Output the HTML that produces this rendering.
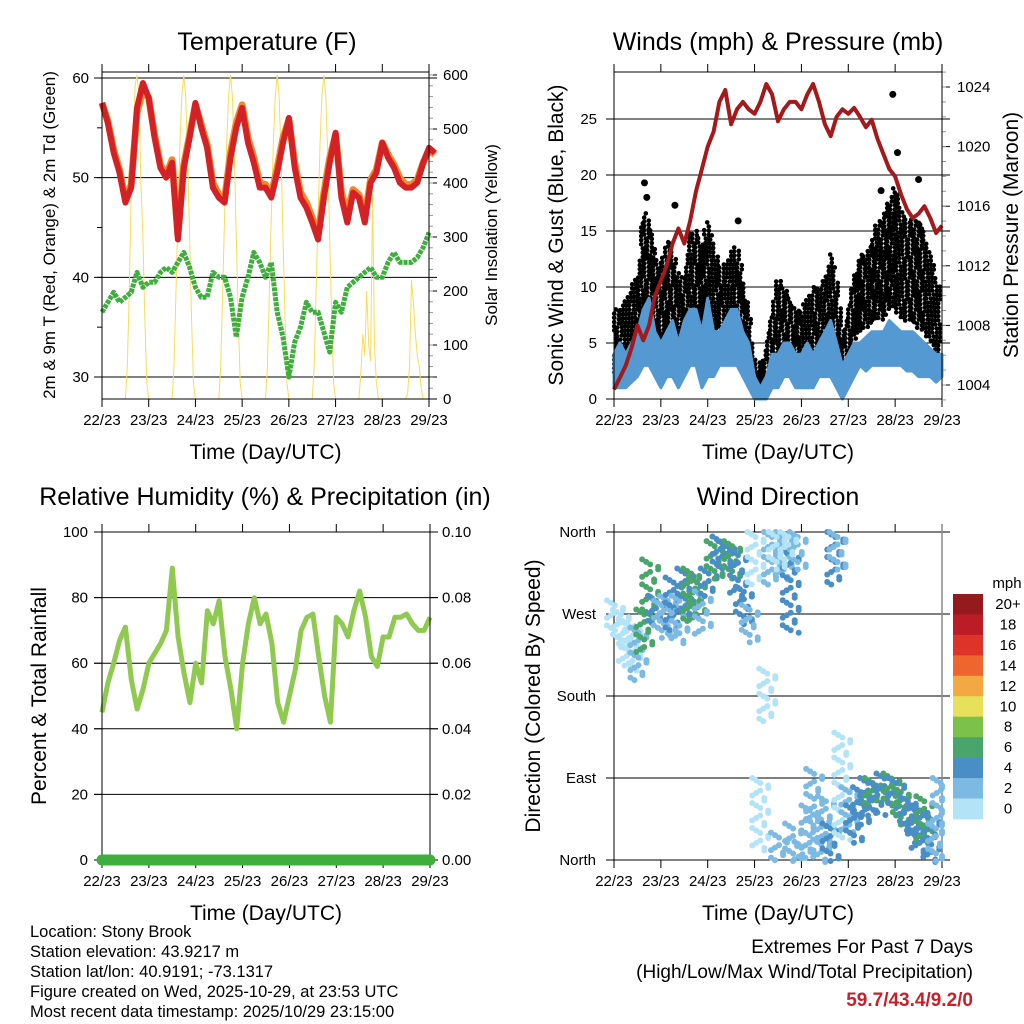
<!DOCTYPE html>
<html><head><meta charset="utf-8"><style>
body{margin:0;background:#fff;}
svg{display:block;font-family:"Liberation Sans",sans-serif;}
</style></head><body>
<svg id="chart" width="1024" height="1024" viewBox="0 0 1024 1024" xmlns="http://www.w3.org/2000/svg">
<rect width="1024" height="1024" fill="#fff"/>
</svg>
<script>
// ---------- DATA (3-hour steps, index/8 = days since 22/23) ----------
const dayLabels = ["22/23","23/23","24/23","25/23","26/23","27/23","28/23","29/23"];
const temp2m = [57.5,55.5,52.5,50.5,47.5,49,57,59.5,58,54,51,50,51.5,43.8,51,54,57.5,55,53,49,48,47.5,52,55,57,53.5,51.5,49,49,48,50.5,53.5,56,51,48,47,45.5,43.8,48,51.5,54.5,48,45.5,48.5,48,45.5,49.5,50.5,53.5,52,51,49.5,49,49,49.5,51.5,53,52.5];
const temp9m = [57.5,55.7,52.8,50.8,47.8,49.3,56.5,58.8,58,54.3,51.3,50.3,51.8,44.2,51.3,54.3,57.3,55.3,53.3,49.5,48.3,47.8,52.5,55.5,57.3,54,52,49.5,49.3,48.3,51,54,55.8,51.5,48.5,47.5,46,44.2,48.5,52,54.3,48.5,46.5,48.8,48.3,46,49.8,50.8,53.5,52.3,51.3,50,49.3,49.3,49.8,51.5,52.8,52.3];
const dewpoint = [36.5,37.5,38.5,37.5,38,38.5,40.5,39,39.5,39.5,40.5,41,40.5,41.5,42.5,41,39,38,38,40.5,40,40,38,34,38,40,42.5,41.5,40,41.5,36.5,34,30,33.5,35,37.5,36.5,36.5,34.5,32.5,37.5,36.5,39,39.5,40,40.5,41,40,40,41.5,42.5,41.5,41.5,41.5,42,43,44.5];
// hourly solar insolation, 7 days x 24 h
const solar = [
 0,0,0,0,0,0,0,0,0,0,0,0, 0,60,200,380,470,580,600,560,400,300,150,30,
 0,0,0,0,0,0,0,0,0,0,0,0, 0,60,200,340,470,560,600,560,450,300,150,30,
 0,0,0,0,0,0,0,0,0,0,0,0, 0,60,200,340,470,560,600,560,450,300,150,30,
 0,0,0,0,0,0,0,0,0,0,0,0, 0,60,200,340,470,560,600,560,450,300,150,30,
 0,0,0,0,0,0,0,0,0,0,0,0, 0,60,200,340,470,560,600,560,450,300,150,30,
 0,0,0,0,0,0,0,0,0,0,0,0, 0,50,120,80,200,100,70,380,100,30,0,0,
 0,0,0,0,0,0,0,0,0,0,0,0, 0,10,60,220,180,120,80,60,20,0,0,0];
const pressure = [1003.7,1004.5,1005.3,1006.5,1008,1007,1008,1010,1011,1012,1013.5,1014.5,1013.5,1015,1017,1018.5,1020,1021,1023,1023.8,1021.5,1022.5,1023,1022.5,1022.2,1023,1024.2,1023.5,1021.7,1022.5,1023,1023,1022.5,1023.5,1024.2,1023,1021.5,1020.7,1022,1022.5,1022.2,1022.6,1022,1021.3,1021.8,1020.5,1019.5,1018.5,1018,1016.8,1015.8,1015.2,1015.5,1016,1015.2,1014.2,1014.7];
const windLo = [1,1,1,1.5,2,3,3,2,1,2,2,1,2,3,3,1,2,2,3,3,3,3,2,1,0,0,0,1,1,2,2,1,1,1,1,2,2,2,1,0,1,2,3,2.5,3,3,3,3,3,3,2.5,2.5,2,2,2,1.5,2];
const windHi = [4,5,4,5,6,8,9,6,5,6,7,5,7,8,8,6,9,6,6,7,8,8,6,5,2,1,2,4,4,5,5,4,4,5,4,5,6,7,5,3,4,5,5,5.5,6,6,6,7,6.5,6,6,6,5.5,5,4.5,4,4];
const gustLo = [2,2,3,3,4,6,7,5,5,5,4,3,5,7,8,6,7,6,6,6,7,7,5,3,1,0,1,3,4,4,4,3,3,3,4,4,5,6,4,2,3,5,6,6,7,7,7,8,8,7,7,7,6,6,5,4,4];
const gustHi = [8,8,9,10,11,17,16,13,12,14,14,11,11,15,15,14,16,14,12,12,13,14,11,8,4,3,5,8,11,10,9,8,8,9,10,10,11,13,11,6,8,11,13,13,14,16,16,18,19,17,16,16,16,15,13,11,9];
const gustOutDay = [0.65,0.7,1.3,2.65,5.95,6.05,6.5,5.7];
const gustOutVal = [19.3,18,17.3,15.9,27.2,22,19.6,18.6];
const rh = [45,54,60,67,71,55,46,52,60,63,66,70,89,68,57,48,60,54,76,72,79,62,52,40,60,72,80,72,75,66,48,42,50,58,70,74,75,62,50,42,74,72,68,76,82,74,62,59,68,68,74,74,75,72,70,70,74];
const precip = [0,0,0,0,0,0,0,0];
// wind direction clusters: day, direction low, direction high, speed (mph)
const wdDay = [0,0.125,0.25,0.375,0.5,0.625,0.75,0.875,1,1.125,1.25,1.375,1.5,1.625,1.75,1.875,2,2.125,2.25,2.375,2.5,2.625,2.75,2.875,3,3.1,3.25,3.35,3.5,3.6,3.75,3.8,3.9,4,4.15,4.25,4.4,4.5,4.6,4.7,4.75,4.85,5,5.1,5.25,5.4,5.5,5.6,5.75,5.9,6,6.1,6.25,6.4,6.5,6.6,6.75,6.85,6.95,3.45,3.7];
const wdLo  = [250,235,215,210,200,230,265,260,245,250,255,240,270,265,265,250,290,310,320,320,310,290,260,240,300,10,150,300,0,310,250,0,320,0,0,40,0,20,0,300,320,20,30,20,40,50,60,50,70,60,50,40,30,20,10,20,0,0,40,320,330];
const wdHi  = [285,275,265,260,255,275,330,290,285,290,310,290,320,320,310,295,320,350,355,350,350,340,300,280,360,90,210,360,30,360,340,40,360,20,60,100,50,70,40,360,360,140,80,60,80,90,90,85,95,95,90,80,70,60,60,70,50,40,90,360,360];
const wdSpd = [1.5,1.5,1.5,1.5,2,6,7,5,2,2,4,2,5,6,7,2,5,6,4,4,6,5,4,2,0,0,1,2,3,2,4,3,2,2,3,2,3,2,4,5,3,1,3,4,4,4,6,5,5,6,5,6,5,4,4,6,4,3,2,0,1];
const cbLabels = ["20+","18","16","14","12","10","8","6","4","2","0"];
const cbColors = ["#941a1d","#bb1c25","#dd3328","#ee6530","#f4a844","#e6e05a","#7bc14a","#4aa56d","#4a8ec6","#7cb9e3","#b3e3f7"];

const NS = "http://www.w3.org/2000/svg";
const svg = document.getElementById('chart');
function mk(tag, name, attrs, parent) {
  const e = document.createElementNS(NS, tag);
  
  
  for (const k in attrs) e.setAttribute(k, attrs[k]);
  (parent || svg).appendChild(e);
  return e;
}
function txt(name, x, y, s, size, anchor, extra) {
  const t = mk('text', name, Object.assign({x: x, y: y, 'font-size': size, 'text-anchor': anchor || 'middle', fill: '#000'}, extra || {}));
  t.textContent = s;
  return t;
}
function vtxt(name, x, y, s, size) {
  return txt(name, x, y, s, size, 'middle', {transform: 'rotate(-90 ' + x + ' ' + y + ')'});
}
function lin(d0, d1, r0, r1) { return v => r0 + (v - d0) / (d1 - d0) * (r1 - r0); }
function pathOf(xs, ys) { return xs.map((x, i) => (i ? 'L' : 'M') + x.toFixed(1) + ' ' + ys[i].toFixed(1)).join(''); }
function interp(arr, d) { const f = d * 8; const i = Math.min(arr.length - 2, Math.floor(f)); const t = f - i; return arr[i] * (1 - t) + arr[i + 1] * t; }

function xAxis(prefix, L, R, T, B) {
  const xs = lin(0, 7, L, R);
  dayLabels.forEach((lab, i) => {
    const x = xs(i);
    mk('line', prefix + '-xtick-bottom', {x1: x, x2: x, y1: B, y2: B + 8, stroke: '#000', 'stroke-width': 1});
    mk('line', prefix + '-xtick-top', {x1: x, x2: x, y1: T - 8, y2: T, stroke: '#000', 'stroke-width': 1});
    txt(prefix + '-xtick-label', x, B + 26, lab, 15);
  });
  txt(prefix + '-x-axis-title', (L + R) / 2, B + 60, 'Time (Day/UTC)', 21);
  return xs;
}
function grid(prefix, L, R, y) {
  mk('line', prefix + '-gridline', {x1: L - 8, x2: R + 8, y1: y, y2: y, stroke: '#000', 'stroke-width': 1});
}
function frame(prefix, L, R, T, B) {
  mk('rect', prefix + '-frame', {x: L, y: T, width: R - L, height: B - T, fill: 'none', stroke: '#000', 'stroke-width': 1});
}

// ================= TEMPERATURE =================
(function () {
  const L = 102, R = 429, T = 72, B = 399;
  const xs = xAxis('temp', L, R, T, B);
  const yL = lin(30, 60, 377, 78), yR = lin(0, 600, 399, 75);
  txt('temp-title', 267, 50, 'Temperature (F)', 25);
  [30, 40, 50, 60].forEach(v => { grid('temp', L, R, yL(v)); txt('temp-ytick-label', 89, yL(v) + 5, v, 15, 'end'); });
  for (let v = 30; v <= 60; v += 5) mk('line', 'temp-ytick', {x1: L - 5, x2: L, y1: yL(v), y2: yL(v), stroke: '#000'});
  for (let v = 0; v <= 600; v += 100) { mk('line', 'solar-ytick', {x1: R, x2: R + 8, y1: yR(v), y2: yR(v), stroke: '#000'}); txt('solar-ytick-label', 443, yR(v) + 5, v, 15, 'start'); }
  for (let v = 20; v <= 600; v += 20) mk('line', 'solar-minor-tick', {x1: R, x2: R + 4, y1: yR(v), y2: yR(v), stroke: '#999'});
  vtxt('temp-y-axis-title', 55, 235, '2m & 9m T (Red, Orange) & 2m Td (Green)', 17);
  vtxt('solar-y-axis-title', 497, 235, 'Solar Insolation (Yellow)', 17);
  const sx = solar.map((v, i) => xs(i / 24)), sy = solar.map(v => yR(v));
  mk('path', 'solar-line', {d: pathOf(sx, sy), fill: 'none', stroke: '#f7dc5a', 'stroke-width': 1});
  const tx = temp9m.map((v, i) => xs(i / 8));
  mk('path', 'temp-9m-line', {d: pathOf(tx, temp9m.map(yL)), fill: 'none', stroke: '#f08a2c', 'stroke-width': 7, 'stroke-linejoin': 'round'});
  mk('path', 'temp-2m-line', {d: pathOf(temp2m.map((v, i) => xs(i / 8)), temp2m.map(yL)), fill: 'none', stroke: '#d42126', 'stroke-width': 6, 'stroke-linejoin': 'round'});
  mk('path', 'dewpoint-line', {d: pathOf(dewpoint.map((v, i) => xs(i / 8)), dewpoint.map(yL)), fill: 'none', stroke: '#3fae3f', 'stroke-width': 5, 'stroke-linejoin': 'round', 'stroke-dasharray': '4 1'});
  frame('temp', L, R, T, B);
})();

// ================= WINDS =================
(function () {
  const L = 614, R = 942, T = 72, B = 399;
  const xs = xAxis('wind', L, R, T, B);
  const yL = lin(0, 25, 399, 119), yR = lin(1004, 1024, 385, 87);
  txt('wind-title', 778, 50, 'Winds (mph) & Pressure (mb)', 25);
  [0, 5, 10, 15, 20, 25].forEach(v => { if (v > 0) grid('wind', L, R, yL(v)); txt('wind-ytick-label', 597, yL(v) + 5, v, 15, 'end'); mk('line', 'wind-ytick', {x1: L - 8, x2: L, y1: yL(v), y2: yL(v), stroke: '#000'}); });
  for (let v = 1004; v <= 1024; v += 4) { mk('line', 'pressure-ytick', {x1: R, x2: R + 8, y1: yR(v), y2: yR(v), stroke: '#000'}); txt('pressure-ytick-label', 957, yR(v) + 5, v, 15, 'start'); }
  for (let v = 1003; v <= 1025; v += 1) mk('line', 'pressure-minor-tick', {x1: R, x2: R + 4, y1: yR(v), y2: yR(v), stroke: '#999'});
  vtxt('wind-y-axis-title', 563, 235, 'Sonic Wind & Gust (Blue, Black)', 21);
  vtxt('pressure-y-axis-title', 1018, 235, 'Station Pressure (Maroon)', 21);
  const g = mk('g', 'gust-points', {fill: '#000'});
  let col = 0;
  for (let x = L + 1; x <= R - 1; x += 3, col++) {
    const d = (x - L) / (R - L) * 7;
    const hi = yL(interp(gustHi, d)), lo = yL(interp(gustLo, d));
    for (let yy = hi + (col % 3) * 1.5; yy <= lo; yy += 4.2) {
      mk('circle', 'gust-point', {cx: x + ((Math.round(yy) % 2) ? 0.8 : -0.8), cy: yy, r: 2.3}, g);
    }
  }
  gustOutDay.forEach((d, i) => mk('circle', 'gust-point', {cx: xs(d), cy: yL(gustOutVal[i]), r: 3.5, fill: '#000'}));
  const gx = windHi.map((v, i) => xs(i / 8));
  const wpoly = pathOf(gx.concat(gx.slice().reverse()), windHi.map(yL).concat(windLo.map(yL).reverse())) + 'Z';
  mk('path', 'wind-band', {d: wpoly, fill: '#5599d2', stroke: '#5599d2', 'stroke-width': 3, 'stroke-linejoin': 'round'});
  mk('path', 'pressure-line', {d: pathOf(pressure.map((v, i) => xs(i / 8)), pressure.map(yR)), fill: 'none', stroke: '#a3191c', 'stroke-width': 4, 'stroke-linejoin': 'round'});
  frame('wind', L, R, T, B);
})();

// ================= RELATIVE HUMIDITY =================
(function () {
  const L = 102, R = 430, T = 532, B = 860;
  const xs = xAxis('rh', L, R, T, B);
  const yL = lin(0, 100, 860, 532), yR = lin(0, 0.1, 860, 532);
  txt('rh-title', 265, 505, 'Relative Humidity (%) & Precipitation (in)', 25);
  [0, 20, 40, 60, 80, 100].forEach(v => { if (v > 0 && v < 100) grid('rh', L, R, yL(v)); txt('rh-ytick-label', 88, yL(v) + 5, v, 15, 'end'); mk('line', 'rh-ytick', {x1: L - 8, x2: L, y1: yL(v), y2: yL(v), stroke: '#000'}); });
  [0, 0.02, 0.04, 0.06, 0.08, 0.1].forEach(v => { mk('line', 'precip-ytick', {x1: R, x2: R + 8, y1: yR(v), y2: yR(v), stroke: '#000'}); txt('precip-ytick-label', 442, yR(v) + 5, v.toFixed(2), 15, 'start'); });
  vtxt('rh-y-axis-title', 46, 696, 'Percent & Total Rainfall', 21);
  mk('path', 'rh-line', {d: pathOf(rh.map((v, i) => xs(i / 8)), rh.map(yL)), fill: 'none', stroke: '#8fc94f', 'stroke-width': 5, 'stroke-linejoin': 'round'});
  frame('rh', L, R, T, B);
  mk('path', 'precip-line', {d: pathOf(precip.map((v, i) => xs(i)), precip.map(yR)), fill: 'none', stroke: '#3fae3f', 'stroke-width': 11, 'stroke-linecap': 'round'});
})();

// ================= WIND DIRECTION =================
(function () {
  const L = 614, R = 942, T = 532, B = 860;
  const xs = xAxis('wdir', L, R, T, B);
  const y = lin(0, 360, 860, 532);
  txt('wdir-title', 778, 505, 'Wind Direction', 25);
  const names = ['North', 'East', 'South', 'West', 'North'];
  names.forEach((n, i) => { grid('wdir', L, R, y(i * 90)); txt('wdir-ytick-label', 596, y(i * 90) + 5, n, 15, 'end'); });
  mk('line', 'wdir-left-axis', {x1: L, x2: L, y1: T - 8, y2: B, stroke: '#000'});
  mk('line', 'wdir-right-axis', {x1: R, x2: R, y1: T - 8, y2: B, stroke: '#888', 'stroke-width': 1.5});
  vtxt('wdir-y-axis-title', 540, 696, 'Direction (Colored By Speed)', 21);
  function col(s) { const k = Math.min(10, Math.floor(s / 2)); return cbColors[10 - k]; }
  const offs = [-7, -3, 1, 5, 9];
  wdDay.forEach((d, i) => {
    const c = col(wdSpd[i]);
    const y0 = y(wdLo[i]), y1 = y(wdHi[i]);
    let r = 0;
    for (let yy = y1; yy <= y0; yy += 5, r++) {
      const o = offs[(r * 2) % 5], o2 = offs[(r * 3 + 1) % 5];
      mk('circle', 'wdir-point', {cx: Math.min(R, xs(d) + o), cy: yy, r: 3, fill: c});
      mk('circle', 'wdir-point', {cx: Math.min(R, xs(d) + o2), cy: yy + 2.5, r: 3, fill: c});
    }
  });
  txt('colorbar-unit', 1007, 588, 'mph', 15);
  cbColors.forEach((c, i) => {
    mk('rect', 'colorbar-swatch', {x: 953, y: 594 + i * 20.45, width: 30, height: 20.9, fill: c});
    txt('colorbar-label', 1008, 609 + i * 20.45, cbLabels[i], 15);
  });
})();

// ================= FOOTER =================
const footer = ['Location: Stony Brook', 'Station elevation: 43.9217 m', 'Station lat/lon: 40.9191; -73.1317', 'Figure created on Wed, 2025-10-29, at 23:53 UTC', 'Most recent data timestamp: 2025/10/29 23:15:00'];
footer.forEach((s, i) => txt('footer-info-line', 30, 937 + i * 20, s, 16.5, 'start'));
txt('extremes-heading', 973, 953, 'Extremes For Past 7 Days', 19, 'end');
txt('extremes-subheading', 973, 978, '(High/Low/Max Wind/Total Precipitation)', 19, 'end');
txt('extremes-values', 973, 1006, '59.7/43.4/9.2/0', 19, 'end', {fill: '#c8202a', 'font-weight': 'bold'});
</script>
</body></html>
